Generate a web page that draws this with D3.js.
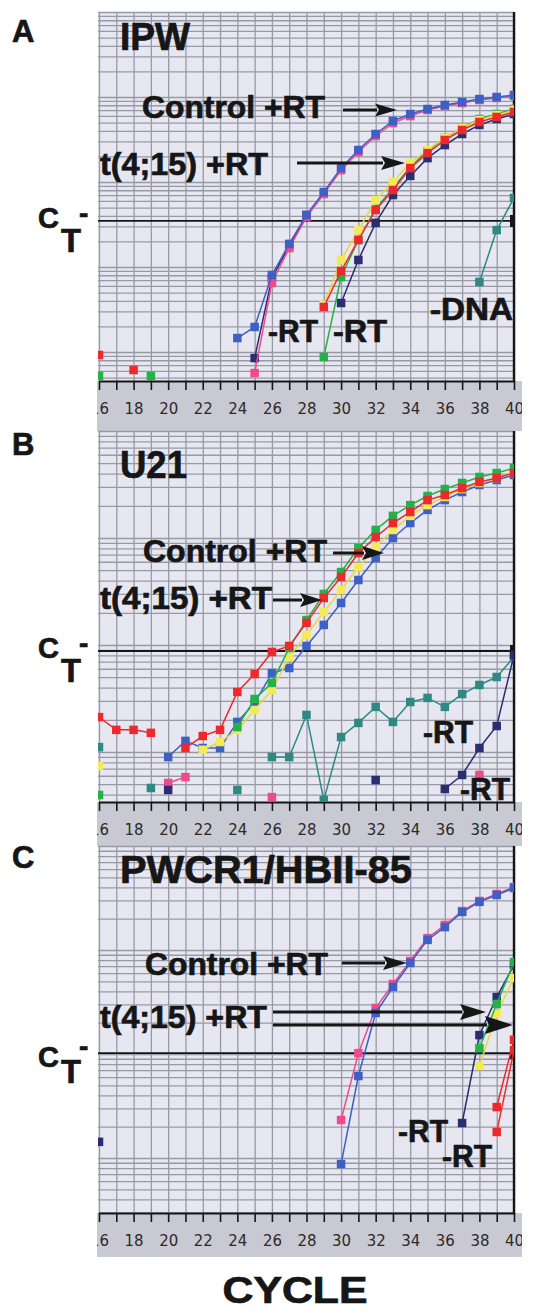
<!DOCTYPE html>
<html>
<head>
<meta charset="utf-8">
<script src="https://cdn.jsdelivr.net/npm/d3@7"></script>
<style>
  html, body { margin: 0; padding: 0; background: #fff; }
  svg { display: block; }
</style>
</head>
<body>
<svg id="fig" width="533" height="1310"></svg>
<script>
// ========= Data =========
const _ = null;
const cycles = [16, 17, 18, 19, 20, 21, 22, 23, 24, 25, 26, 27, 28, 29, 30, 31, 32, 33, 34, 35, 36, 37, 38, 39, 40];
const cycleLabels = [16, 18, 20, 22, 24, 26, 28, 30, 32, 34, 36, 38, 40];

// Panel A - IPW (delta Rn, log axis)
const ipwRange = [0.000456, 10];
const ipwThreshold = 0.0348;
const ipwNavyCtrl = [_, _, _, _, _, _, _, _, _, 0.000849, 0.00743, 0.0177, 0.0409, _, _, _, _, _, _, _, _, _, _, _, _];
const ipwPink = [_, _, _, _, _, _, _, _, _, 0.000566, 0.00649, 0.0167, 0.0387, 0.0723, 0.138, 0.225, 0.348, 0.494, 0.597, 0.703, 0.783, 0.849, 0.922, 0.973, 1.028];
const ipwBlue = [_, _, _, _, _, _, _, _, 0.00146, 0.00197, 0.00805, 0.0187, 0.0409, 0.0762, 0.146, 0.238, 0.367, 0.522, 0.631, 0.723, 0.805, 0.873, 0.947, 1.0, 1.057];
const ipwNavy = [_, _, _, _, _, _, _, _, _, _, _, _, _, _, 0.00377, 0.0121, 0.033, 0.0703, 0.118, 0.191, 0.272, 0.367, 0.469, 0.551, 0.631];
const ipwGreen = [0.000522, _, _, 0.000522, _, _, _, _, _, _, _, _, _, 0.000873, 0.00762, 0.0208, 0.0481, 0.0849, 0.15, 0.232, 0.33, 0.432, 0.551, 0.631, 0.723];
const ipwYellow = [_, _, _, _, _, _, _, _, _, _, _, _, _, 0.00357, 0.0121, 0.0272, 0.0614, 0.1, 0.168, 0.238, 0.33, 0.432, 0.536, 0.614, 0.703];
const ipwRed = [0.000923, _, 0.000614, _, _, _, _, _, _, _, _, _, _, 0.00338, 0.00897, 0.0208, 0.0469, 0.0805, 0.146, 0.219, 0.312, 0.409, 0.508, 0.582, 0.667];
const ipwTeal = [_, _, _, _, _, _, _, _, _, _, _, _, _, _, _, _, _, _, _, _, _, _, 0.00667, 0.0272, 0.0649];

// Panel B - U21
const u21Range = [0.00341, 10];
const u21Threshold = 0.0879;
const u21Teal = [0.0111, _, _, 0.00461, _, _, _, _, 0.00442, _, 0.00897, 0.00897, 0.0222, 0.00356, 0.0138, 0.0187, 0.0264, 0.0191, 0.0293, 0.032, 0.0264, 0.0348, 0.0423, 0.0502, 0.0773];
const u21Pink = [_, _, _, _, 0.00513, 0.00583, _, _, _, _, 0.00379, _, _, _, _, _, _, _, _, _, _, _, 0.0061, _, _];
const u21Navy = [_, _, _, _, 0.00442, _, _, _, _, _, _, _, _, _, _, _, 0.00547, _, _, _, 0.00451, 0.0061, 0.0109, 0.0175, 0.0807];
const u21Blue = [_, _, _, _, 0.00897, 0.0127, 0.0109, 0.0109, 0.0191, 0.0287, 0.0547, 0.061, 0.0979, 0.154, 0.247, 0.405, 0.65, 1.0, 1.38, 1.83, 2.26, 2.69, 3.13, 3.48, 3.88];
const u21Yellow = [0.0074, _, _, _, _, _, 0.0105, 0.0124, 0.0161, 0.0247, 0.0379, 0.0773, 0.124, 0.203, 0.327, 0.536, 0.824, 1.19, 1.61, 2.03, 2.42, 2.87, 3.27, 3.64, 4.14];
const u21Green = [0.00396, _, _, _, _, _, _, _, 0.0171, 0.0313, 0.0442, 0.0938, 0.171, 0.3, 0.481, 0.807, 1.19, 1.61, 2.03, 2.47, 2.87, 3.27, 3.72, 4.05, 4.51];
const u21Red = [0.0212, 0.0161, 0.0161, 0.0151, _, 0.0109, 0.0141, 0.0161, 0.0364, 0.0536, 0.0861, 0.0979, 0.161, 0.275, 0.432, 0.724, 1.02, 1.38, 1.75, 2.26, 2.52, 2.93, 3.34, 3.64, 4.05];

// Panel C - PWCR1/HBII-85
const pwRange = [0.00296, 10];
const pwThreshold = 0.102;
const pwPink = [_, _, _, _, _, _, _, _, _, _, _, _, _, _, 0.0232, 0.102, 0.277, 0.471, 0.783, 1.3, 1.74, 2.37, 2.96, 3.45, 4.03];
const pwBlue = [_, _, _, _, _, _, _, _, _, _, _, _, _, _, 0.00875, 0.0614, 0.248, 0.441, 0.75, 1.25, 1.66, 2.32, 2.9, 3.38, 3.95];
const pwNavy = [0.0143, _, _, _, _, _, _, _, _, _, _, _, _, _, _, _, _, _, _, _, _, 0.0217, 0.152, 0.353, 0.718];
const pwYellow = [_, _, _, _, _, _, _, _, _, _, _, _, _, _, _, _, _, _, _, _, _, _, 0.0767, 0.243, 0.538];
const pwGreen = [_, _, _, _, _, _, _, _, _, _, _, _, _, _, _, _, _, _, _, _, _, _, 0.114, 0.303, 0.767];
const pwRed = [_, _, _, _, _, _, _, _, _, _, _, _, _, _, _, _, _, _, _, _, _, _, _, 0.0309, 0.137];
const pwRed2 = [_, _, _, _, _, _, _, _, _, _, _, _, _, _, _, _, _, _, _, _, _, _, _, 0.0178, 0.109];

// ========= Styles =========
const COL = {
  blue: "#3d5fc6", pink: "#ee4b8e", red: "#ec2a2e", yellow: "#f4ea55",
  green: "#25b04a", navy: "#2a2d70", teal: "#2e8984"
};
const BG = "#e6e7f1", GRID = "#979aa5", BAND = "#c8c9d3", INK = "#161616";
const PL = 98, PR = 514;
const BOLD = "'Liberation Sans', Arial, Helvetica, sans-serif";

// ========= Panel config =========
const panels = [
  {
    letter: "A", letterY: 42, title: "IPW", titleY: 50, titleLen: 70,
    yDomain: ipwRange, threshold: ipwThreshold, top: 12, bottom: 381, band: 50,
    ct: { c: 7, t: 31, dash: -6 },
    series: [
      [ipwNavyCtrl, COL.navy], [ipwPink, COL.pink], [ipwBlue, COL.blue],
      [ipwNavy, COL.navy], [ipwGreen, COL.green], [ipwYellow, COL.yellow], [ipwRed, COL.red],
      [ipwTeal, COL.teal]
    ],
    texts: [
      ["Control +RT", 142, 118, 183], ["t(4;15) +RT", 100, 175, 168],
      ["-RT", 268, 342, 50], ["-RT", 333, 342, 54], ["-DNA", 430, 320, 83]
    ],
    arrows: [[343, 397, 110, 22, 6.5], [297, 405, 163, 24, 7]]
  },
  {
    letter: "B", letterY: 455, title: "U21", titleY: 478, titleLen: 67,
    yDomain: u21Range, threshold: u21Threshold, top: 431, bottom: 802, band: 44,
    ct: { c: 7, t: 31, dash: -6 },
    series: [
      [u21Teal, COL.teal], [u21Pink, COL.pink], [u21Navy, COL.navy], [u21Blue, COL.blue],
      [u21Yellow, COL.yellow], [u21Green, COL.green], [u21Red, COL.red]
    ],
    texts: [
      ["Control +RT", 143, 562, 184], ["t(4;15) +RT", 100, 609, 172],
      ["-RT", 423, 743, 50], ["-RT", 460, 800, 50]
    ],
    arrows: [[333, 384, 553, 22, 7], [273, 322, 600, 22, 7]]
  },
  {
    letter: "C", letterY: 868, title: "PWCR1/HBII-85", titleY: 883, titleLen: 292,
    yDomain: pwRange, threshold: pwThreshold, top: 846, bottom: 1213, band: 44,
    ct: { c: 14, t: 30, dash: -5 },
    series: [
      [pwPink, COL.pink], [pwBlue, COL.blue], [pwNavy, COL.navy], [pwYellow, COL.yellow],
      [pwGreen, COL.green], [pwRed2, COL.red], [pwRed, COL.red]
    ],
    texts: [
      ["Control +RT", 145, 975, 183], ["t(4;15) +RT", 100, 1028, 167],
      ["-RT", 398, 1142, 50], ["-RT", 442, 1167, 50]
    ],
    arrows: [[342, 407, 963, 24, 7], [273, 486, 1012, 26, 8], [273, 513, 1025, 28, 9]]
  }
];

// ========= Drawing =========
const svg = d3.select("#fig");
const defs = svg.append("defs");
const x = d3.scaleLinear().domain([16, 40]).range([99, 514]);

// heavy bold text, like the original figure lettering
function boldText(g, t, tx, ty, size) {
  return g.append("text").attr("x", tx).attr("y", ty).text(t)
    .attr("font-family", BOLD).attr("font-weight", "bold").attr("font-size", size)
    .attr("fill", INK).attr("stroke", INK).attr("stroke-width", 0.7);
}

function drawArrow(g, x0, x1, yy, len, half) {
  g.append("line").attr("x1", x0).attr("x2", x1 - len + 2).attr("y1", yy).attr("y2", yy)
    .attr("stroke", INK).attr("stroke-width", 3);
  g.append("path")
    .attr("d", `M${x1},${yy}L${x1 - len},${yy - half}L${x1 - len + 4},${yy}L${x1 - len},${yy + half}Z`)
    .attr("fill", INK);
}

function drawPanel(p) {
  const g = svg.append("g");
  const y = d3.scaleLog().domain(p.yDomain).range([p.bottom, p.top]);

  defs.append("clipPath").attr("id", "plot" + p.letter).append("rect")
    .attr("x", PL).attr("y", p.top - 1).attr("width", PR - PL).attr("height", p.bottom - p.top + 1);
  defs.append("clipPath").attr("id", "band" + p.letter).append("rect")
    .attr("x", 97).attr("y", p.bottom - 2).attr("width", 425).attr("height", p.band + 2);

  // gray tick band + plot background
  g.append("rect").attr("x", 97).attr("y", p.bottom).attr("width", 425).attr("height", p.band).attr("fill", BAND);
  g.append("rect").attr("x", PL).attr("y", p.top).attr("width", PR - PL).attr("height", p.bottom - p.top).attr("fill", BG);

  // log grid (horizontal)
  g.append("g").attr("transform", `translate(${PL},0)`)
    .call(d3.axisLeft(y).tickValues(y.ticks()).tickSize(-(PR - PL)).tickFormat(""))
    .call(a => a.select(".domain").remove())
    .selectAll("line").attr("stroke", GRID).attr("stroke-width", 1.3);

  // cycle grid (vertical)
  g.append("g").attr("transform", `translate(0,${p.bottom})`)
    .call(d3.axisBottom(x).tickValues(cycles).tickSize(-(p.bottom - p.top)).tickFormat(""))
    .call(a => a.select(".domain").remove())
    .selectAll("line").attr("stroke", GRID).attr("stroke-width", 1.3);

  // bottom axis with ticks and labels
  const axG = g.append("g").attr("clip-path", `url(#band${p.letter})`)
    .append("g").attr("transform", `translate(0,${p.bottom})`)
    .call(d3.axisBottom(x).tickValues(cycles).tickSize(9).tickSizeOuter(0).tickPadding(13)
      .tickFormat(d => cycleLabels.includes(d) ? d : ""));
  axG.select(".domain").attr("stroke", INK).attr("stroke-width", 2.2);
  axG.selectAll(".tick line").attr("stroke", INK).attr("stroke-width", 1.6);
  axG.selectAll(".tick text").attr("fill", "#2a2a2a")
    .attr("font-family", "'DejaVu Sans', sans-serif").attr("font-size", 16)
    .attr("textLength", 19).attr("lengthAdjust", "spacingAndGlyphs");

  // right border
  g.append("line").attr("x1", PR).attr("x2", PR).attr("y1", p.top).attr("y2", p.bottom + 1)
    .attr("stroke", INK).attr("stroke-width", 2.4);

  // threshold (CT) line
  const ty = y(p.threshold);
  g.append("line").attr("x1", PL).attr("x2", PR).attr("y1", ty).attr("y2", ty)
    .attr("stroke", INK).attr("stroke-width", 1.8);
  g.append("rect").attr("x", PR - 4).attr("y", ty - 6).attr("width", 5).attr("height", 12).attr("fill", INK);

  // series
  const plot = g.append("g").attr("clip-path", `url(#plot${p.letter})`);
  const line = d3.line().defined(d => d.v != null).x(d => x(d.c)).y(d => y(d.v));
  p.series.forEach(([vals, color]) => {
    const pts = cycles.map((c, i) => ({ c, v: vals[i] }));
    plot.append("path").datum(pts).attr("d", line)
      .attr("fill", "none").attr("stroke", color === COL.yellow ? "#e9d83a" : color)
      .attr("stroke-width", 1.5);
    plot.selectAll(null).data(pts.filter(d => d.v != null)).join("rect")
      .attr("x", d => x(d.c) - 4.25).attr("y", d => y(d.v) - 4.25)
      .attr("width", 8.5).attr("height", 8.5).attr("fill", color);
  });

  // titles and annotations
  boldText(g, p.letter, 12, p.letterY, 31);
  boldText(g, p.title, 120, p.titleY, 38)
    .attr("textLength", p.titleLen).attr("lengthAdjust", "spacingAndGlyphs");

  p.texts.forEach(([t, tx, tyy, len]) => {
    boldText(g, t, tx, tyy, 31).attr("textLength", len).attr("lengthAdjust", "spacingAndGlyphs");
  });
  p.arrows.forEach(([x0, x1, ay, len, half]) => drawArrow(g, x0, x1, ay, len, half));

  // C_T- label
  boldText(g, "C", 38, ty + p.ct.c, 29);
  boldText(g, "T", 61, ty + p.ct.t, 34).attr("textLength", 20).attr("lengthAdjust", "spacingAndGlyphs");
  boldText(g, "-", 79, ty + p.ct.dash + 8, 28);
}

panels.forEach(drawPanel);

boldText(svg, "CYCLE", 295, 1303, 36).attr("text-anchor", "middle")
  .attr("textLength", 145).attr("lengthAdjust", "spacingAndGlyphs");
</script>
</body>
</html>
